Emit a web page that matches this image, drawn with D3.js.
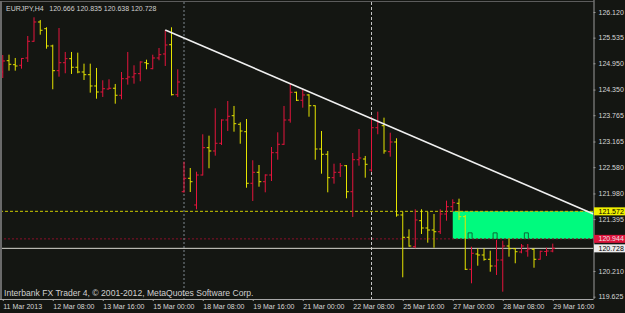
<!DOCTYPE html>
<html>
<head>
<meta charset="utf-8">
<script src="https://cdn.jsdelivr.net/npm/d3@7"></script>
<style>
  html, body { margin: 0; padding: 0; background: #141612; }
  svg { display: block; }
  text { font-family: "Liberation Sans", Arial, sans-serif; }
</style>
</head>
<body>
<div id="chart"></div>
<script>
// EURJPY H4, bar 0 = 11 Mar 2013 00:00 ... bar 88 = 29 Mar 16:00
const opens = [
  124.751, 125.009, 124.918, 124.904, 125.071, 125.452, 125.892, 125.739, 125.345, 124.781,
  124.963, 125.055, 124.859, 124.751, 124.690, 124.432, 124.295, 124.362, 124.380, 124.220,
  124.598, 124.637, 124.713, 124.963, 124.827, 125.071, 125.162, 125.374, 124.233, 122.020,
  122.326, 121.717, 122.401, 123.024, 122.949, 123.125, 123.656, 123.754, 123.558, 123.389,
  122.212, 122.463, 122.248, 122.401, 122.910, 123.102, 123.656, 124.288, 124.106, 124.227,
  123.982, 122.994, 122.874, 122.340, 122.463, 122.613, 122.020, 122.750, 122.766, 122.515,
  123.480, 123.526, 122.933, 123.154, 121.489, 120.980, 120.765, 121.359, 121.192, 121.146,
  121.107, 121.511, 121.678, 121.756, 121.450, 120.250, 120.599, 120.576, 120.478, 120.325,
  120.462, 120.781, 120.720, 120.644, 120.667, 120.706, 120.478, 120.655, 120.666
];
const highs = [
  125.139, 125.146, 125.071, 125.071, 125.573, 125.999, 125.938, 125.771, 125.374, 125.755,
  125.208, 125.208, 125.192, 124.941, 124.941, 124.843, 124.562, 124.585, 124.478, 124.751,
  125.208, 124.904, 124.995, 125.032, 125.146, 125.299, 125.710, 125.771, 124.813, 122.705,
  122.561, 122.476, 123.330, 123.298, 123.923, 123.672, 124.090, 123.976, 123.604, 123.679,
  122.737, 122.629, 122.417, 123.040, 123.375, 123.976, 124.484, 124.302, 124.363, 124.243,
  123.990, 123.405, 122.949, 122.659, 122.675, 122.629, 122.903, 123.451, 122.835, 123.731,
  123.846, 123.709, 123.366, 123.239, 121.564, 121.162, 121.619, 121.619, 121.564, 121.511,
  121.619, 121.815, 121.847, 121.861, 121.489, 120.765, 120.729, 120.729, 120.674, 120.918,
  120.902, 120.957, 120.729, 120.827, 120.827, 120.729, 120.674, 120.743, 120.835
];
const lows = [
  124.614, 124.781, 124.781, 124.827, 124.979, 125.440, 125.602, 125.283, 124.357, 124.644,
  124.722, 124.706, 124.722, 124.569, 124.279, 124.142, 124.181, 124.357, 124.028, 124.128,
  124.462, 124.484, 124.539, 124.813, 124.813, 125.018, 124.888, 124.215, 124.181, 121.997,
  122.013, 121.619, 122.390, 122.554, 122.842, 123.086, 123.405, 123.389, 123.115, 122.111,
  121.808, 122.134, 122.006, 122.264, 122.750, 123.086, 123.595, 124.090, 123.937, 123.731,
  122.750, 122.431, 122.006, 122.203, 122.356, 121.870, 121.443, 122.613, 122.340, 122.476,
  123.330, 122.887, 122.819, 121.450, 120.067, 120.765, 120.729, 121.055, 120.857, 120.743,
  121.055, 121.359, 121.564, 121.375, 120.234, 119.930, 120.332, 120.446, 120.195, 120.120,
  119.739, 120.537, 120.387, 120.615, 120.537, 120.286, 120.470, 120.553, 120.638
];
const closes = [
  125.002, 124.927, 124.888, 125.060, 125.452, 125.892, 125.703, 125.345, 124.781, 124.963,
  125.055, 124.859, 124.751, 124.690, 124.432, 124.295, 124.370, 124.380, 124.220, 124.598,
  124.637, 124.713, 124.979, 124.941, 125.071, 125.146, 125.367, 124.233, 124.523, 122.326,
  122.248, 122.401, 123.024, 122.949, 123.125, 123.656, 123.741, 123.572, 123.405, 122.212,
  122.463, 122.248, 122.401, 122.910, 123.102, 123.656, 124.288, 124.106, 124.227, 123.982,
  122.994, 122.874, 122.340, 122.463, 122.613, 122.020, 122.750, 122.789, 122.645, 123.480,
  123.604, 122.949, 123.154, 121.489, 120.980, 120.781, 121.375, 121.192, 121.146, 121.107,
  121.511, 121.678, 121.769, 121.450, 120.250, 120.615, 120.576, 120.478, 120.325, 120.462,
  120.781, 120.720, 120.651, 120.781, 120.713, 120.478, 120.660, 120.667, 120.728
];

const timeTicks = [0, 8, 16, 24, 32, 40, 48, 56, 64, 72, 80, 88];
const timeLabels = ["11 Mar 2013", "12 Mar 08:00", "13 Mar 16:00", "15 Mar 00:00", "18 Mar 08:00",
  "19 Mar 16:00", "21 Mar 00:00", "22 Mar 08:00", "25 Mar 16:00", "27 Mar 00:00", "28 Mar 08:00", "29 Mar 16:00"];
const priceTicks = [126.120, 125.535, 124.950, 124.350, 123.765, 123.165, 122.580, 121.980,
  121.395, 120.210, 119.625];

// drawn objects
const zoneTop = 121.572, zoneBottom = 120.944, zoneStart = 72;
const trendA = [26, 125.710], trendB = [60, 123.627];
const vLines = [29, 59];
const markers = [75, 79, 84];
const symbol = "EURJPY,H4";

const W = 625, H = 313;
const R = 593.5, B = 299;
const upColor = "#e3143c", downColor = "#e4e400";

const x = d3.scaleLinear().domain([0, 88]).range([2.75, 552.75]);
const y = d3.scaleLinear().domain([119.572, 126.348]).range([299, 2]);

const svg = d3.select("#chart").append("svg").attr("width", W).attr("height", H);
svg.append("rect").attr("width", W).attr("height", H).attr("fill", "#141612");

svg.append("clipPath").attr("id", "plot")
  .append("rect").attr("x", 0).attr("y", 2).attr("width", R).attr("height", B - 2);
const g = svg.append("g").attr("clip-path", "url(#plot)");

// zone rectangle
g.append("rect")
  .attr("x", x(zoneStart)).attr("y", y(zoneTop))
  .attr("width", R - x(zoneStart)).attr("height", y(zoneBottom) - y(zoneTop))
  .attr("fill", "#00fa7e");

// horizontal levels
g.append("line").attr("x1", 0).attr("x2", R).attr("y1", y(zoneTop)).attr("y2", y(zoneTop))
  .attr("stroke", "#c8c800").attr("stroke-dasharray", "3,2");
g.append("line").attr("x1", 0).attr("x2", R).attr("y1", y(zoneBottom)).attr("y2", y(zoneBottom))
  .attr("stroke", "#8a0f2a").attr("stroke-dasharray", "2,2");

// vertical dotted lines
g.selectAll("line.v").data(vLines).join("line")
  .attr("x1", d => x(d)).attr("x2", d => x(d)).attr("y1", 2).attr("y2", B)
  .attr("stroke", (d, i) => i == 0 ? "#7f8890" : "#c4c4c4")
  .attr("stroke-dasharray", (d, i) => i == 0 ? "2,2" : "3,2");

// bid line
const bid = closes[closes.length - 1];
g.append("line").attr("x1", 0).attr("x2", R).attr("y1", y(bid)).attr("y2", y(bid))
  .attr("stroke", "#d8d8d0");

// OHLC bars
g.selectAll("path.bar").data(d3.range(opens.length)).join("path")
  .attr("d", i => {
    const xi = x(i);
    return `M${xi},${y(highs[i])}V${y(lows[i])}` +
      `M${xi - 2.3},${y(opens[i])}H${xi}M${xi},${y(closes[i])}H${xi + 2.3}`;
  })
  .attr("fill", "none")
  .attr("stroke", i => closes[i] >= opens[i] ? upColor : downColor)
  .attr("stroke-width", 1);

// trendline (ray to the right)
const tx1 = x(trendA[0]), ty1 = y(trendA[1]);
const slope = (y(trendB[1]) - ty1) / (x(trendB[0]) - tx1);
g.append("line").attr("x1", tx1).attr("y1", ty1)
  .attr("x2", R).attr("y2", ty1 + slope * (R - tx1))
  .attr("stroke", "#f0f0f0").attr("stroke-width", 1.6);

// small markers on the zone
g.selectAll("path.mk").data(markers).join("path")
  .attr("d", d => {
    const cx = x(d) - 1.4, yb = y(zoneBottom) - 0.5;
    return `M${cx - 2},${yb}V${yb - 5.5}H${cx + 2}V${yb}`;
  })
  .attr("fill", "none").attr("stroke", "#0a6a38").attr("stroke-width", 1);

// borders
svg.append("line").attr("x1", 0).attr("x2", R).attr("y1", 1.5).attr("y2", 1.5).attr("stroke", "#5c5c5c");
svg.append("line").attr("x1", 1).attr("x2", 1).attr("y1", 1).attr("y2", B).attr("stroke", "#6a6a6a").attr("stroke-width", 2);

// right price axis
const yAxis = svg.append("g").attr("transform", `translate(${R},0)`)
  .call(d3.axisRight(y).tickValues(priceTicks).tickSize(2).tickSizeOuter(0).tickPadding(3)
    .tickFormat(d3.format(".3f")));
yAxis.select(".domain").attr("stroke", "#9a9a9a").attr("d", `M0.5,0V${B}`);
yAxis.selectAll(".tick line").attr("stroke", "#9a9a9a");
yAxis.selectAll("text").attr("fill", "#d6d6d6").attr("font-size", 7);

// bottom time axis
const xAxis = svg.append("g").attr("transform", `translate(0,${B})`)
  .call(d3.axisBottom(x).tickValues(timeTicks).tickSize(2).tickSizeOuter(0).tickPadding(3)
    .tickFormat((d, i) => timeLabels[i]));
xAxis.select(".domain").attr("stroke", "#a8a8a8").attr("d", `M0,0.5H${R}`);
xAxis.selectAll(".tick line").attr("stroke", "#a8a8a8");
xAxis.selectAll("text").attr("fill", "#d6d6d6").attr("font-size", 7)
  .attr("text-anchor", "start").attr("x", 0);

// price label boxes
const boxes = [
  { v: zoneTop, bg: "#f0f000", fg: "#000000" },
  { v: zoneBottom, bg: "#dc143c", fg: "#f4e0e4" },
  { v: bid, bg: "#ececec", fg: "#000000" }
];
const lb = svg.selectAll("g.box").data(boxes).join("g")
  .attr("transform", d => `translate(${R + 0.5},${y(d.v)})`);
lb.append("rect").attr("x", 0).attr("y", -4).attr("width", W - R).attr("height", 8)
  .attr("fill", d => d.bg);
lb.append("text").attr("x", 4.5).attr("dy", "0.34em").attr("font-size", 7)
  .attr("fill", d => d.fg).text(d => d3.format(".3f")(d.v));

// header and footer texts
const last = opens.length - 1;
svg.append("text").attr("x", 6).attr("y", 10.5).attr("font-size", 7).attr("fill", "#d0d0d0")
  .text(symbol);
svg.append("text").attr("x", 49.3).attr("y", 10.5).attr("font-size", 7).attr("fill", "#d0d0d0")
  .text([opens[last], highs[last], lows[last], closes[last]].map(d3.format(".3f")).join(" "));
svg.append("text").attr("x", 4).attr("y", 296).attr("font-size", 8.6).attr("fill", "#d0d0d0")
  .text("Interbank FX Trader 4, \u00a9 2001-2012, MetaQuotes Software Corp.");
</script>
</body>
</html>
